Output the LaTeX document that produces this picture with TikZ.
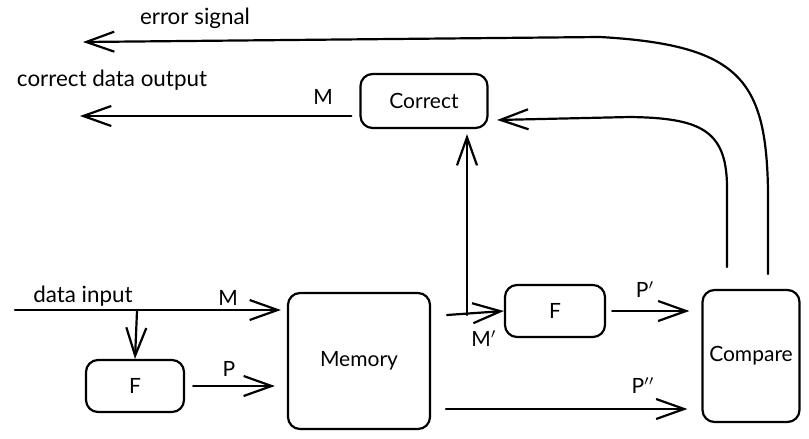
\documentclass[tikz,border=0pt]{standalone}
\usepackage{fontspec}
\setmainfont{Lato}
\usetikzlibrary{arrows.meta}

\begin{document}
\begin{tikzpicture}[x=.5pt, y=-.5pt, line width=1.1pt, line cap=round, line join=round,
    every node/.style={font=\fontsize{10.5}{12}\selectfont},
    lbl/.style={font=\fontsize{11.2}{13}\selectfont},
    blk/.style={draw, rounded corners=6pt, inner sep=0pt},
    arr/.style={-{Straight Barb[length=14pt, width=10pt, line width=1.1pt]}}]

\useasboundingbox (0,0) rectangle (809,439);

% nodes ---
\node [blk, minimum width=63.5pt, minimum height=27pt] (correct) at (424,101) {Correct};
\node [blk, minimum width=71pt, minimum height=68pt] (memory) at (359,361) {Memory};
\node [blk, minimum width=49pt, minimum height=26pt] (fin) at (135,386) {F};
\node [blk, minimum width=50pt, minimum height=26pt] (fout) at (555,311) {F};
\node [blk, minimum width=48.5pt, minimum height=66pt] (compare) at (751,356) {Compare};

% labels ---
\node [lbl] (lerr) at (195,18) {error signal};
\node [lbl] (lout) at (112,80) {correct data output};
\node [lbl] (lin) at (83,296) {data input};
\node (lmc) at (323,97) {M};
\node (lmi) at (228,298) {M};
\node (lp) at (229,369) {P};
\node (lmp) at (484,339) {M$'$};
\node (lpp) at (645,290) {P$'$};
\node (lppp) at (643,386) {P$''$};

% free ends ---
\coordinate (din) at (15,310);
\coordinate (split) at (137,311);
\coordinate (mout) at (447,315);
\coordinate (junc) at (467,315);
\coordinate (pout) at (446,409);
\coordinate (cin) at (497,120);
\coordinate (cmpa) at (727,267);
\coordinate (cmpb) at (768,274);
\coordinate (dout) at (80,116);
\coordinate (eout) at (83,42);

% connectors ---
\draw [arr, shorten >=3pt] (din) -- (din -| memory.west);
\draw [arr] (split) -- (fin.north);
\draw [arr, shorten <=4pt, shorten >=6pt] (fin.east) -- (fin.east -| memory.west);
\draw [arr] (mout) -- (fout.west);
\draw [arr, shorten >=2.5pt] (junc) -- (junc |- correct.south);
\draw [arr, shorten <=3pt, shorten >=6pt] (fout.east) -- (fout.east -| compare.west);
\draw [arr, shorten >=7pt] (pout) -- (pout -| compare.west);
\draw [arr, shorten <=4pt] (correct.west |- dout) -- (dout);

\draw [arr] (cmpa) -- (727,185) .. controls (726,130) and (700,118) .. (630,117) -- (cin);
\draw [arr] (cmpb) -- (768,190) .. controls (766,80) and (740,45) .. (600,37) -- (eout);

\end{tikzpicture}
\end{document}
